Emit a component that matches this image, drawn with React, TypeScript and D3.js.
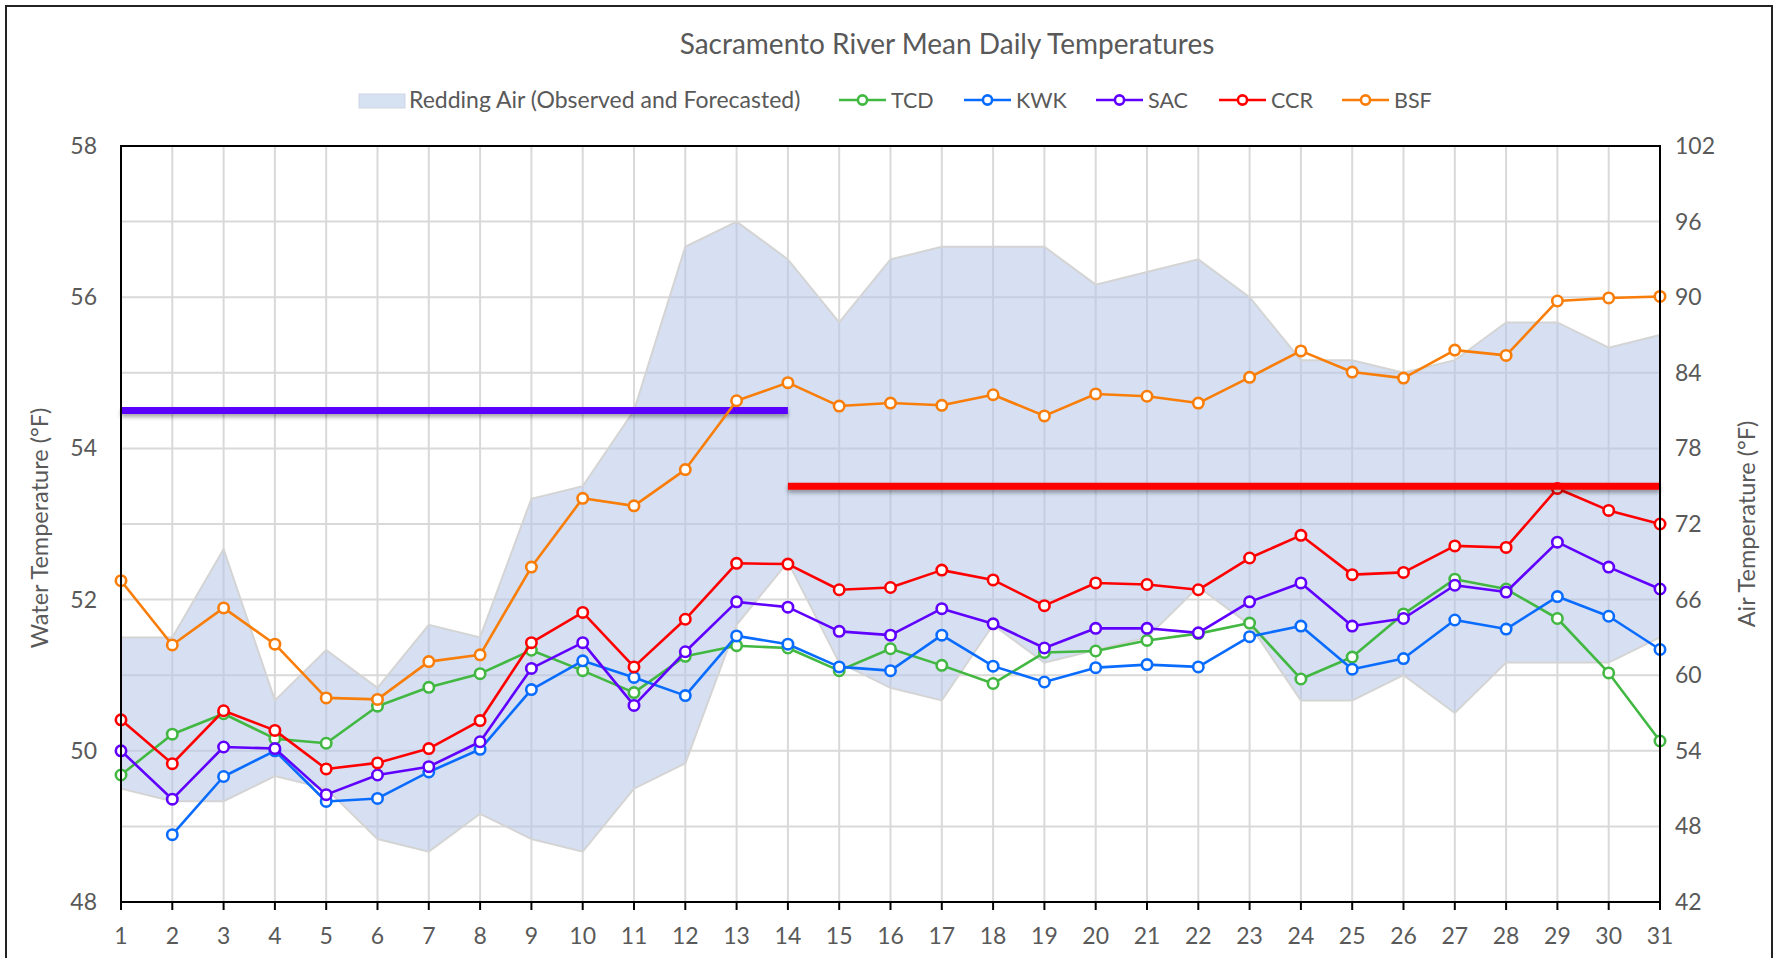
import React from "react";
import * as d3 from "d3";

// days of the month
const days = [1, 2, 3, 4, 5, 6, 7, 8, 9, 10, 11, 12, 13, 14, 15, 16, 17, 18, 19, 20, 21, 22, 23, 24, 25, 26, 27, 28, 29, 30, 31];

// Redding air band (deg F, right axis)
const airLow = [51, 50, 50, 52, 51, 47, 46, 49, 47, 46, 51, 53, 64, 69, 61, 59, 58, 64, 61, 62, 63, 67, 64, 58, 58, 60, 57, 61, 61, 61, 63];
const airHigh = [63, 63, 70, 58, 62, 59, 64, 63, 74, 75, 81, 94, 96, 93, 88, 93, 94, 94, 94, 91, 92, 93, 90, 85, 85, 84, 85, 88, 88, 86, 87];

// water temperatures (deg F, left axis)
const tcd = [49.68, 50.22, 50.49, 50.16, 50.1, 50.59, 50.84, 51.02, 51.33, 51.06, 50.77, 51.25, 51.39, 51.36, 51.06, 51.35, 51.13, 50.89, 51.3, 51.32, 51.46, 51.55, 51.69, 50.95, 51.24, 51.81, 52.27, 52.14, 51.75, 51.03, 50.13];
const kwk = [null, 48.89, 49.66, 50.0, 49.33, 49.37, 49.72, 50.02, 50.81, 51.19, 50.97, 50.73, 51.52, 51.41, 51.11, 51.06, 51.53, 51.12, 50.91, 51.1, 51.14, 51.11, 51.51, 51.65, 51.08, 51.22, 51.73, 51.61, 52.04, 51.78, 51.34];
const sac = [50.0, 49.36, 50.05, 50.03, 49.42, 49.68, 49.79, 50.12, 51.09, 51.43, 50.6, 51.31, 51.97, 51.9, 51.58, 51.53, 51.88, 51.68, 51.36, 51.62, 51.62, 51.56, 51.97, 52.22, 51.65, 51.75, 52.19, 52.1, 52.76, 52.43, 52.14];
const ccr = [50.41, 49.83, 50.53, 50.27, 49.76, 49.84, 50.03, 50.4, 51.43, 51.83, 51.11, 51.74, 52.48, 52.47, 52.13, 52.16, 52.39, 52.26, 51.92, 52.22, 52.2, 52.13, 52.55, 52.85, 52.33, 52.36, 52.71, 52.69, 53.47, 53.18, 53.0];
const bsf = [52.25, 51.4, 51.89, 51.41, 50.7, 50.68, 51.18, 51.27, 52.43, 53.34, 53.24, 53.72, 54.63, 54.87, 54.56, 54.6, 54.57, 54.71, 54.43, 54.72, 54.69, 54.6, 54.94, 55.29, 55.01, 54.93, 55.3, 55.23, 55.95, 55.99, 56.01];

// temperature targets
const sacTargetDays = [1, 14];
const sacTarget = 54.5;
const ccrTargetDays = [14, 31];
const ccrTarget = 53.5;

const waterTicks = [48, 50, 52, 54, 56, 58];
const waterGrid = [48, 49, 50, 51, 52, 53, 54, 55, 56, 57, 58];
const airTicks = [42, 48, 54, 60, 66, 72, 78, 84, 90, 96, 102];

const seriesNames = ["TCD", "KWK", "SAC", "CCR", "BSF"];
const seriesValues = [tcd, kwk, sac, ccr, bsf];
const seriesColors = ["#42b842", "#0a6cff", "#6000ff", "#ff0000", "#f97d09"];

const W = 1775;
const H = 958;
const left = 121, right = 1660, top = 146, bottom = 902;
const FONT = "Lato, 'Open Sans', sans-serif";
const TEXT = "#595959";

export default function App() {
  const x = d3.scaleLinear().domain([1, 31]).range([left, right]);
  const yW = d3.scaleLinear().domain([48, 58]).range([bottom, top]);
  const yA = d3.scaleLinear().domain([42, 102]).range([bottom, top]);

  const band = days.map((d, i) => ({ d, lo: airLow[i], hi: airHigh[i] }));
  const area = d3.area<any>().x(p => x(p.d)).y0(p => yA(p.lo)).y1(p => yA(p.hi));
  const hiLine = d3.line<any>().x(p => x(p.d)).y(p => yA(p.hi));
  const loLine = d3.line<any>().x(p => x(p.d)).y(p => yA(p.lo));

  const line = d3.line<any>()
    .defined(p => p.v != null)
    .x(p => x(p.d))
    .y(p => yW(p.v));

  const renderSeries = (k: number) => {
    const pts = days.map((d, i) => ({ d, v: seriesValues[k][i] }));
    return (
      <g key={seriesNames[k]}>
        <path d={line(pts) || ""} fill="none" stroke={seriesColors[k]} strokeWidth={2.6} strokeLinejoin="round" />
        {pts.filter(p => p.v != null).map(p => (
          <circle key={p.d} cx={x(p.d)} cy={yW(p.v)} r={5.2} fill="#fff" stroke={seriesColors[k]} strokeWidth={2.6} />
        ))}
      </g>
    );
  };

  const legendX = [839, 964, 1096, 1219, 1342];
  const legendY = 100;

  return (
    <svg width={W} height={H} style={{ position: "absolute", left: 0, top: 0, background: "#fff" }} fontFamily={FONT}>
      <defs>
        <filter id="shadow" filterUnits="userSpaceOnUse" x={0} y={0} width={W} height={H}>
          <feDropShadow dx={0} dy={3} stdDeviation={2} floodColor="#000" floodOpacity={0.35} />
        </filter>
      </defs>
      <rect x={0} y={0} width={W} height={H} fill="#fff" />
      <rect x={6} y={6} width={1766} height={980} fill="none" stroke="#222" strokeWidth={2} />

      {/* title */}
      <text x={947} y={54} textAnchor="middle" fontSize={28} fill={TEXT}>Sacramento River Mean Daily Temperatures</text>

      {/* legend */}
      <rect x={359} y={94} width={46} height={14} fill="#d6e1f2" stroke="#cfd6e2" strokeWidth={1} />
      <text x={409} y={legendY + 8} fontSize={23} fill={TEXT}>Redding Air (Observed and Forecasted)</text>
      {seriesNames.map((n, k) => (
        <g key={n}>
          <line x1={legendX[k]} x2={legendX[k] + 47} y1={legendY} y2={legendY} stroke={seriesColors[k]} strokeWidth={2.6} />
          <circle cx={legendX[k] + 23.5} cy={legendY} r={4.6} fill="#fff" stroke={seriesColors[k]} strokeWidth={2.6} />
          <text x={legendX[k] + 52} y={legendY + 8} fontSize={21.5} fill={TEXT}>{n}</text>
        </g>
      ))}

      {/* grid */}
      {waterGrid.map(v => (
        <line key={"h" + v} x1={left} x2={right} y1={yW(v)} y2={yW(v)} stroke="#d9d9d9" strokeWidth={2} />
      ))}
      {days.map(d => (
        <line key={"v" + d} x1={x(d)} x2={x(d)} y1={top} y2={bottom} stroke="#d9d9d9" strokeWidth={2} />
      ))}

      {/* air band */}
      <path d={area(band) || ""} fill="#b4c7e7" fillOpacity={0.55} />
      <path d={hiLine(band) || ""} fill="none" stroke="#d4d4d4" strokeWidth={2} />
      <path d={loLine(band) || ""} fill="none" stroke="#d4d4d4" strokeWidth={2} />

      {/* water series */}
      {[0, 1, 2, 3].map(renderSeries)}

      {/* targets */}
      <g filter="url(#shadow)">
        <line x1={x(sacTargetDays[0])} x2={x(sacTargetDays[1])} y1={yW(sacTarget)} y2={yW(sacTarget)} stroke="#5a00ff" strokeWidth={7} />
        <line x1={x(ccrTargetDays[0])} x2={x(ccrTargetDays[1])} y1={yW(ccrTarget)} y2={yW(ccrTarget)} stroke="#ff0000" strokeWidth={7} />
      </g>

      {renderSeries(4)}

      {/* plot frame */}
      <rect x={left} y={top} width={right - left} height={bottom - top} fill="none" stroke="#000" strokeWidth={2} />
      {days.map(d => (
        <line key={"t" + d} x1={x(d)} x2={x(d)} y1={bottom} y2={bottom + 8} stroke="#000" strokeWidth={2} />
      ))}

      {/* axes labels */}
      {days.map(d => (
        <text key={"xl" + d} x={x(d)} y={944} textAnchor="middle" fontSize={23} fill={TEXT}>{d}</text>
      ))}
      {waterTicks.map(v => (
        <text key={"wl" + v} x={97} y={yW(v) + 8} textAnchor="end" fontSize={23} fill={TEXT}>{v}</text>
      ))}
      {airTicks.map(v => (
        <text key={"al" + v} x={1675} y={yA(v) + 8} textAnchor="start" fontSize={23} fill={TEXT}>{v}</text>
      ))}
      <text transform={`translate(48, ${(top + bottom) / 2 + 4}) rotate(-90)`} textAnchor="middle" fontSize={23.5} fill={TEXT}>Water Temperature (°F)</text>
      <text transform={`translate(1755, ${(top + bottom) / 2}) rotate(-90)`} textAnchor="middle" fontSize={23.5} fill={TEXT}>Air Temperature (°F)</text>
    </svg>
  );
}
